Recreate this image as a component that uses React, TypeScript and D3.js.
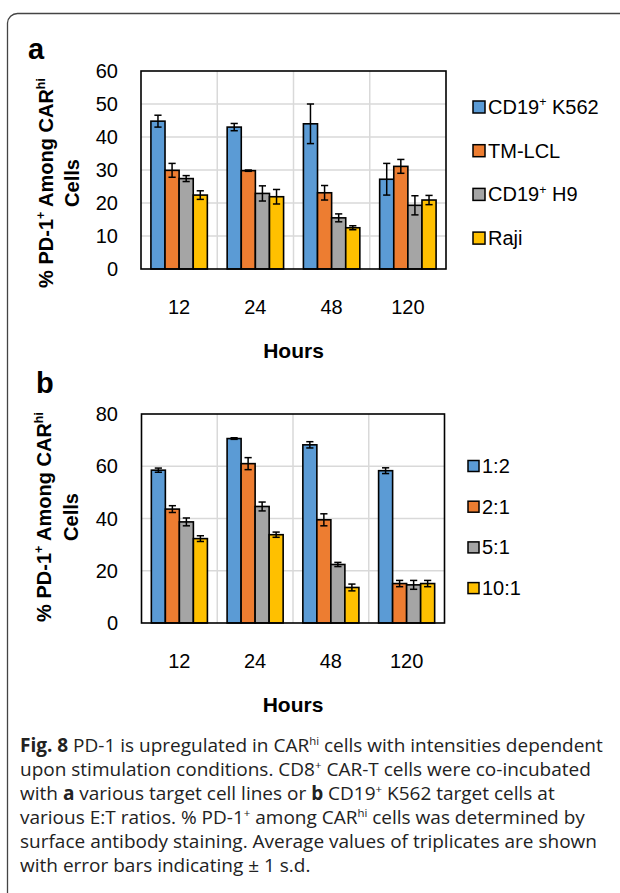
import * as d3 from 'd3';
import { useEffect, useRef } from 'react';

const hours = ['12', '24', '48', '120'];

// panel a – target cell lines
const targetLabels = ['CD19^{+} K562', 'TM-LCL', 'CD19^{+} H9', 'Raji'];
const targetMeans = [
  [44.8, 43.0, 44.0, 27.2],
  [29.9, 29.8, 23.1, 31.1],
  [27.4, 22.9, 15.5, 19.3],
  [22.4, 21.9, 12.5, 20.9]
];
const targetErr = [
  [1.8, 1.1, 6.0, 4.8],
  [2.1, 0.2, 2.2, 2.1],
  [0.9, 2.3, 1.2, 2.9],
  [1.3, 2.2, 0.6, 1.4]
];
const targetTicks = [0, 10, 20, 30, 40, 50, 60];

// panel b – E:T ratios
const ratioLabels = ['1:2', '2:1', '5:1', '10:1'];
const ratioMeans = [
  [58.5, 70.6, 68.2, 58.3],
  [43.6, 61.0, 39.5, 15.1],
  [38.7, 44.6, 22.4, 14.6],
  [32.3, 33.8, 13.6, 15.1]
];
const ratioErr = [
  [0.8, 0.3, 1.2, 1.1],
  [1.3, 2.3, 2.3, 1.2],
  [1.5, 1.7, 0.8, 1.7],
  [1.1, 1.0, 1.3, 1.2]
];
const ratioTicks = [0, 20, 40, 60, 80];

const colors = ['#5B9BD5', '#ED7D31', '#A5A5A5', '#FFC000'];

const yTitle = '% PD-1^{+} Among CAR^{hi}';

const captionLines = [
  '**Fig. 8** PD-1 is upregulated in CAR^{hi} cells with intensities dependent',
  'upon stimulation conditions. CD8^{+} CAR-T cells were co-incubated',
  'with **a** various target cell lines or **b** CD19^{+} K562 target cells at',
  'various E:T ratios. % PD-1^{+} among CAR^{hi} cells was determined by',
  'surface antibody staining. Average values of triplicates are shown',
  'with error bars indicating ± 1 s.d.'
];

const chartFont = '"Liberation Sans", Arial, sans-serif';
const captionFont = '"Open Sans", "Noto Sans", sans-serif';

// tiny markup: **bold**, ^{sup}
const rich = (text, str, fontSize, supScale = 0.62) => {
  const parts = str.split(/(\*\*[^*]+\*\*|\^\{[^}]+\})/).filter(p => p.length);
  const lift = fontSize * 0.38;
  let pending = 0;
  parts.forEach(p => {
    const t = text.append('tspan');
    if (p.startsWith('**')) {
      t.attr('font-weight', 700).text(p.slice(2, -2));
      if (pending) t.attr('dy', pending);
      pending = 0;
    } else if (p.startsWith('^{')) {
      t.attr('font-size', fontSize * supScale).attr('dy', -lift + pending).text(p.slice(2, -1));
      pending = lift;
    } else {
      t.text(p);
      if (pending) t.attr('dy', pending);
      pending = 0;
    }
  });
};

const drawPanel = (svg, cfg) => {
  const { x0, x1, y0, y1, ticks, means, errs, labels, letter, letterPos, titleX, titleY, legend } = cfg;
  const g = svg.append('g');

  const x = d3.scaleBand().domain(hours).range([x0, x1]);
  const bw = x.bandwidth();
  const xs = d3
    .scaleBand()
    .domain(d3.range(labels.length))
    .range([bw * 0.13, bw * 0.87]);
  const y = d3
    .scaleLinear()
    .domain([0, ticks[ticks.length - 1]])
    .range([y1, y0]);

  // ── Grid ──
  g.selectAll('.hgrid')
    .data(ticks.slice(1, -1))
    .join('line')
    .attr('x1', x0)
    .attr('x2', x1)
    .attr('y1', d => y(d))
    .attr('y2', d => y(d))
    .attr('stroke', '#d9d9d9')
    .attr('stroke-width', 1.5);
  g.selectAll('.vgrid')
    .data(hours.slice(1))
    .join('line')
    .attr('x1', d => x(d))
    .attr('x2', d => x(d))
    .attr('y1', y0)
    .attr('y2', y1)
    .attr('stroke', '#d9d9d9')
    .attr('stroke-width', 1.5);

  // ── Bars ──
  const cells = [];
  means.forEach((row, si) => row.forEach((v, hi) => cells.push({ si, h: hours[hi], v, e: errs[si][hi] })));

  g.selectAll('.bar')
    .data(cells)
    .join('rect')
    .attr('x', d => x(d.h) + xs(d.si))
    .attr('y', d => y(d.v))
    .attr('width', xs.bandwidth())
    .attr('height', d => y(0) - y(d.v))
    .attr('fill', d => colors[d.si])
    .attr('stroke', '#000')
    .attr('stroke-width', 1.6);

  // ── Error bars ──
  const eb = g.selectAll('.err').data(cells).join('g').attr('stroke', '#000').attr('stroke-width', 1.5);
  const cx = d => x(d.h) + xs(d.si) + xs.bandwidth() / 2;
  eb.append('line')
    .attr('x1', cx)
    .attr('x2', cx)
    .attr('y1', d => y(d.v + d.e))
    .attr('y2', d => y(d.v - d.e));
  [1, -1].forEach(s =>
    eb
      .append('line')
      .attr('x1', d => cx(d) - 3.6)
      .attr('x2', d => cx(d) + 3.6)
      .attr('y1', d => y(d.v + s * d.e))
      .attr('y2', d => y(d.v + s * d.e))
  );

  // ── Box ──
  g.append('rect')
    .attr('x', x0)
    .attr('y', y0)
    .attr('width', x1 - x0)
    .attr('height', y1 - y0)
    .attr('fill', 'none')
    .attr('stroke', '#000')
    .attr('stroke-width', 1.6);

  // ── Axes text ──
  g.selectAll('.ytick')
    .data(ticks)
    .join('text')
    .attr('x', 118)
    .attr('y', d => y(d))
    .attr('dy', '0.35em')
    .attr('text-anchor', 'end')
    .attr('font-size', 20)
    .text(d => d);

  g.selectAll('.xtick')
    .data(hours)
    .join('text')
    .attr('x', d => x(d) + bw / 2)
    .attr('y', y1 + 38)
    .attr('dy', '0.35em')
    .attr('text-anchor', 'middle')
    .attr('font-size', 20)
    .text(d => d);

  g.append('text')
    .attr('x', (x0 + x1) / 2)
    .attr('y', y1 + 82)
    .attr('dy', '0.35em')
    .attr('text-anchor', 'middle')
    .attr('font-size', 21)
    .attr('font-weight', 700)
    .text('Hours');

  const t1 = g
    .append('text')
    .attr('transform', `translate(${titleX[0]},${titleY}) rotate(-90)`)
    .attr('dy', '0.35em')
    .attr('text-anchor', 'middle')
    .attr('font-size', 20)
    .attr('font-weight', 700);
  rich(t1, yTitle, 20);
  g.append('text')
    .attr('transform', `translate(${titleX[1]},${titleY}) rotate(-90)`)
    .attr('dy', '0.35em')
    .attr('text-anchor', 'middle')
    .attr('font-size', 20)
    .attr('font-weight', 700)
    .text('Cells');

  g.append('text')
    .attr('x', letterPos[0])
    .attr('y', letterPos[1])
    .attr('font-size', 29)
    .attr('font-weight', 700)
    .text(letter);

  // ── Legend ──
  const lg = g
    .selectAll('.leg')
    .data(labels)
    .join('g')
    .attr('transform', (d, i) => `translate(${legend.x},${legend.y + i * legend.step})`);
  lg.append('rect')
    .attr('x', 0)
    .attr('y', -legend.box / 2)
    .attr('width', legend.box)
    .attr('height', legend.box)
    .attr('fill', (d, i) => colors[i])
    .attr('stroke', '#000')
    .attr('stroke-width', 1.5);
  lg.append('text')
    .attr('x', legend.box + 3)
    .attr('dy', '0.35em')
    .attr('font-size', 20)
    .each(function (d) {
      rich(d3.select(this), d, 20);
    });
};

const App = () => {
  const svgRef = useRef(null);

  useEffect(() => {
    const svg = d3.select(svgRef.current);
    svg.selectAll('*').remove();
    svg.attr('font-family', chartFont).attr('fill', '#000');

    // figure frame (rounded left edge, open on the right)
    svg
      .append('path')
      .attr('d', 'M7.5,893 V23 A10,10 0 0 1 17.5,13.5 H620')
      .attr('fill', 'none')
      .attr('stroke', '#444')
      .attr('stroke-width', 1.3);

    drawPanel(svg, {
      x0: 141,
      x1: 446,
      y0: 71,
      y1: 269,
      ticks: targetTicks,
      means: targetMeans,
      errs: targetErr,
      labels: targetLabels,
      letter: 'a',
      letterPos: [28, 59],
      titleX: [46, 72],
      titleY: 183,
      legend: { x: 473, y: 107, step: 43.7, box: 12 }
    });

    drawPanel(svg, {
      x0: 141.5,
      x1: 444.5,
      y0: 414,
      y1: 623,
      ticks: ratioTicks,
      means: ratioMeans,
      errs: ratioErr,
      labels: ratioLabels,
      letter: 'b',
      letterPos: [36, 393],
      titleX: [44, 71],
      titleY: 517,
      legend: { x: 468, y: 466, step: 40.7, box: 11 }
    });

    // ── Caption ──
    const cap = svg.append('g').attr('font-family', captionFont).attr('fill', '#222');
    captionLines.forEach((line, i) => {
      const t = cap
        .append('text')
        .attr('x', 20)
        .attr('y', 752 + i * 24)
        .attr('font-size', 19);
      rich(t, line, 19, 0.6);
    });
  }, []);

  return <svg ref={svgRef} width={620} height={893} style={{ position: 'absolute', left: 0, top: 0, background: '#fff' }} />;
};

export default App;
